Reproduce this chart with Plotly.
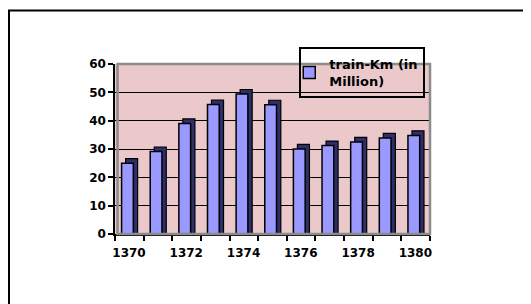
import plotly.graph_objects as go

# ---- data ----
years = [1370, 1371, 1372, 1373, 1374, 1375, 1376, 1377, 1378, 1379, 1380]
train_km = [25.0, 29.1, 39.0, 45.7, 49.4, 45.6, 30.0, 31.2, 32.5, 33.9, 34.8]
tick_labels = ["1370", "1372", "1374", "1376", "1378", "1380"]
series_name = "train-Km (in<br>Million)"
y_ticks = [0, 10, 20, 30, 40, 50, 60]

# ---- style ----
FRONT = "#9999FF"
SIDE = "#2E2E6B"
WALL = "#EBC8CA"
DEPTH = 1.6  # visual depth of the 3-D cap, in value units
FONT = "DejaVu Sans"

# category boundaries for ticks, labels every other year
bounds = [y - 0.5 for y in years] + [years[-1] + 0.5]
ticktext = []
for b in bounds:
    lab = str(int(b + 0.5))
    ticktext.append(lab if lab in tick_labels else "")

fig = go.Figure()
# depth / side of each column
fig.add_bar(
    x=years, y=[v + DEPTH for v in train_km], offset=-0.13, width=0.42,
    marker=dict(color=SIDE, line=dict(color="black", width=1.2)),
    showlegend=False, hoverinfo="skip",
)
# front face
fig.add_bar(
    x=years, y=train_km, offset=-0.27, width=0.41,
    marker=dict(color=FRONT, line=dict(color="black", width=1.5)),
    name=series_name,
)

fig.update_layout(
    width=523, height=296,
    margin=dict(l=107, r=101, t=56, b=70),
    paper_bgcolor="white", plot_bgcolor=WALL,
    barmode="overlay",
    font=dict(family=FONT, size=12, color="black"),
    showlegend=True,
    legend=dict(
        x=0.585, y=1.1, xanchor="left", yanchor="top",
        bgcolor="rgba(0,0,0,0)", bordercolor="black", borderwidth=2,
        itemwidth=30, indentation=-12,
        font=dict(family=FONT, size=13, color="black", weight="bold"),
    ),
    xaxis=dict(
        range=[years[0] - 0.5, years[-1] + 0.5],
        tickmode="array", tickvals=bounds, ticktext=ticktext,
        ticks="outside", ticklen=5, tickwidth=1.5, tickcolor="black",
        ticklabelshift=14, ticklabelstandoff=2,
        showline=True, linecolor="black", linewidth=1.5,
        showgrid=False, zeroline=False,
        tickfont=dict(family=FONT, size=12, color="black", weight="bold"),
    ),
    yaxis=dict(
        range=[0, 60], tickmode="array", tickvals=y_ticks,
        ticks="outside", ticklen=5, tickwidth=1.5, tickcolor="black",
        showline=True, linecolor="black", linewidth=1.5,
        showgrid=True, gridcolor="black", gridwidth=1.3,
        zeroline=False,
        tickfont=dict(family=FONT, size=12, color="black", weight="bold"),
    ),
    shapes=[
        # grey wall frame
        dict(type="rect", xref="paper", yref="paper", x0=0.008, x1=1, y0=0, y1=1,
             line=dict(color="#8C8C8C", width=2.5), layer="above"),
        # outer chart frame (extends past the window)
        dict(type="rect", xref="paper", yref="paper", x0=-0.3365, x1=1.6, y0=-0.6, y1=1.315,
             line=dict(color="black", width=2)),
    ],
)

fig.write_html("out.html")
